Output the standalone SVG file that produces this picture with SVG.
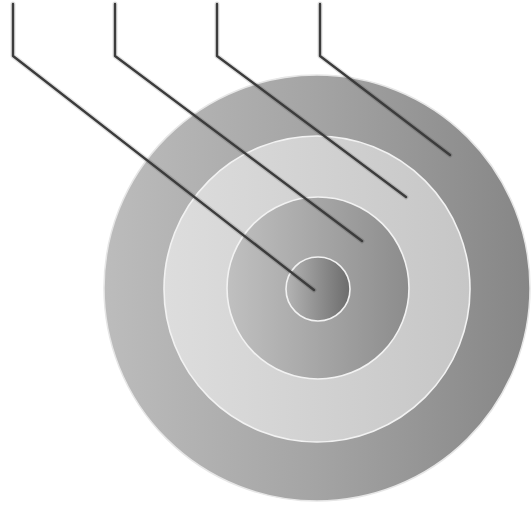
<svg xmlns="http://www.w3.org/2000/svg" width="531" height="509" viewBox="0 0 531 509">
  <defs>
    <linearGradient id="g1" x1="0" y1="0" x2="1" y2="0">
      <stop offset="0" stop-color="#bcbcbc"/>
      <stop offset="0.5" stop-color="#a4a4a4"/>
      <stop offset="1" stop-color="#868686"/>
    </linearGradient>
    <linearGradient id="g2" x1="0" y1="0" x2="1" y2="0">
      <stop offset="0" stop-color="#dddddd"/>
      <stop offset="1" stop-color="#c6c6c6"/>
    </linearGradient>
    <linearGradient id="g3" x1="0" y1="0" x2="1" y2="0">
      <stop offset="0" stop-color="#c0c0c0"/>
      <stop offset="1" stop-color="#8c8c8c"/>
    </linearGradient>
    <linearGradient id="g4" x1="0" y1="0" x2="1" y2="0">
      <stop offset="0" stop-color="#b4b4b4"/>
      <stop offset="1" stop-color="#6c6c6c"/>
    </linearGradient>
    <filter id="soft" x="-10%" y="-10%" width="120%" height="120%">
      <feGaussianBlur stdDeviation="0.6"/>
    </filter>
  </defs>
  <style>
    .ring { stroke: #f2f2f2; stroke-width: 1.6; }
    .lead { fill: none; stroke: #3c3c3c; stroke-width: 2.4; stroke-linejoin: round; stroke-linecap: round; }
    .shade { fill: none; stroke: #000; stroke-opacity: 0.12; stroke-width: 5; stroke-linejoin: round; stroke-linecap: round; }
  </style>
  <rect width="531" height="509" fill="#ffffff"/>
  <g id="ring-outer">
    <circle cx="317" cy="288" r="213" fill="url(#g1)" stroke="#e6e6e6" stroke-width="1.5"/>
  </g>
  <g id="ring-second">
    <circle class="ring" cx="317" cy="289" r="153" fill="url(#g2)"/>
  </g>
  <g id="ring-third">
    <circle class="ring" cx="318" cy="288" r="91" fill="url(#g3)"/>
  </g>
  <g id="ring-inner">
    <circle class="ring" cx="318" cy="289" r="32" fill="url(#g4)" stroke-width="2"/>
  </g>
  <g id="connectors">
    <g filter="url(#soft)">
      <path class="shade" d="M13 4 V56 L314 290"/>
      <path class="shade" d="M115 4 V56 L362 241"/>
      <path class="shade" d="M217 4 V56 L406 197"/>
      <path class="shade" d="M320 4 V56 L450 155"/>
    </g>
    <path class="lead" d="M13 4 V56 L314 290"/>
    <path class="lead" d="M115 4 V56 L362 241"/>
    <path class="lead" d="M217 4 V56 L406 197"/>
    <path class="lead" d="M320 4 V56 L450 155"/>
  </g>
</svg>
